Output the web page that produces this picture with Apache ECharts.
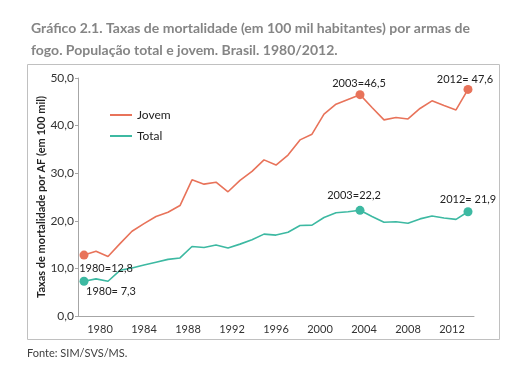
<!DOCTYPE html>
<html lang="pt">
<head>
    <meta charset="UTF-8">
    <title>Gráfico 2.1</title>
    <script src="https://cdn.jsdelivr.net/npm/echarts@6/dist/echarts.min.js"></script>
</head>
<body style="margin:0;background:#fff;">
    <div id="main" style="width:532px;height:375px;"></div>
</body>
<script type="text/javascript">
    // anos da série (1980-2012) e taxas
    var years = [];
    for (var y = 1980; y <= 2012; y++) years.push(String(y));

    var jovem = [12.8, 13.6, 12.5, 15.2, 17.8, 19.4, 20.9, 21.8, 23.2, 28.6,
                 27.7, 28.1, 26.1, 28.5, 30.4, 32.8, 31.7, 33.8, 37.0, 38.2,
                 42.4, 44.5, 45.5, 46.5, 43.8, 41.2, 41.7, 41.4, 43.6, 45.2,
                 44.2, 43.3, 47.6];
    var total = [7.3, 7.8, 7.3, 9.6, 10.1, 10.7, 11.3, 11.9, 12.2, 14.6,
                 14.4, 14.9, 14.3, 15.1, 16.0, 17.2, 17.0, 17.6, 19.0, 19.1,
                 20.7, 21.7, 21.9, 22.2, 20.9, 19.7, 19.8, 19.5, 20.4, 21.0,
                 20.6, 20.3, 21.9];

    // rótulos do eixo x como aparecem no original
    var tickLabels = ['1980', '1984', '1988', '1992', '1996', '2000', '2004', '2008', '2012'];

    // pontos destacados
    var highlightYears = ['1980', '2003', '2012'];
    var jovemNotes = ['1980=12,8', '2003=46,5', '2012= 47,6'];
    var totalNotes = ['1980= 7,3', '2003=22,2', '2012= 21,9'];

    var corJovem = '#E8735A';
    var corTotal = '#3DB9A2';
    var fonte = 'Lato, "Open Sans", sans-serif';

    function pontos(serie, notas, offsets) {
        return highlightYears.map(function (ano, i) {
            return {
                value: [ano, serie[years.indexOf(ano)]],
                label: { formatter: notas[i], offset: offsets[i] }
            };
        });
    }

    var myChart = echarts.init(document.getElementById('main'));

    var option = {
        animation: false,
        textStyle: { fontFamily: fonte },
        title: {
            text: 'Gráfico 2.1. Taxas de mortalidade (em 100 mil habitantes) por armas de\nfogo. População total e jovem. Brasil. 1980/2012.',
            left: 26, top: 12,
            textStyle: { fontFamily: fonte, fontSize: 14, fontWeight: 'bold', color: '#858585', lineHeight: 22 }
        },
        legend: {
            data: ['Jovem', 'Total'],
            orient: 'vertical',
            left: 105, top: 104,
            icon: 'rect',
            itemWidth: 22, itemHeight: 2,
            itemGap: 9,
            textStyle: { fontFamily: fonte, fontSize: 12, color: '#222' }
        },
        grid: { left: 78, right: 58, top: 78, bottom: 59 },
        xAxis: [{
            type: 'category',
            data: years,
            boundaryGap: true,
            show: false
        }, {
            type: 'category',
            data: tickLabels,
            boundaryGap: true,
            position: 'bottom',
            axisLine: { lineStyle: { color: '#a6a6a6' } },
            axisTick: { interval: 0, length: 4, lineStyle: { color: '#a6a6a6' } },
            axisLabel: { interval: 0, fontSize: 11, color: '#333', margin: 8 },
            splitLine: { show: false }
        }],
        yAxis: {
            type: 'value',
            min: 0, max: 50, interval: 10,
            name: 'Taxas de mortalidade por AF (em 100 mil)',
            nameLocation: 'middle',
            nameGap: 31,
            nameMoveOverlap: false,
            nameTextStyle: { fontFamily: fonte, fontSize: 11, fontWeight: 'bold', color: '#222' },
            axisLine: { show: true, lineStyle: { color: '#a6a6a6' } },
            axisTick: { show: true, length: 3, lineStyle: { color: '#a6a6a6' } },
            axisLabel: {
                fontSize: 12, color: '#333', margin: 4,
                formatter: function (v) { return v.toFixed(1).replace('.', ','); }
            },
            splitLine: { show: false }
        },
        graphic: [{
            type: 'rect',
            shape: { x: 27.5, y: 64.5, width: 472, height: 275 },
            style: { fill: 'none', stroke: '#c0c0c0', lineWidth: 1 },
            silent: true
        }, {
            type: 'text',
            left: 27, top: 348,
            style: { text: 'Fonte: SIM/SVS/MS.', fontFamily: fonte, fontSize: 11, fill: '#404040' }
        }],
        series: [{
            name: 'Jovem',
            type: 'line',
            data: jovem,
            showSymbol: false,
            lineStyle: { color: corJovem, width: 1.6 },
            itemStyle: { color: corJovem }
        }, {
            name: 'Total',
            type: 'line',
            data: total,
            showSymbol: false,
            lineStyle: { color: corTotal, width: 1.6 },
            itemStyle: { color: corTotal }
        }, {
            name: 'Jovem destaque',
            type: 'scatter',
            symbolSize: 9,
            z: 5,
            itemStyle: { color: corJovem, opacity: 1 },
            label: { show: true, position: 'inside', fontSize: 11, color: '#222', fontFamily: fonte },
            data: pontos(jovem, jovemNotes, [[22, 13], [-1, -11], [-3, -10]])
        }, {
            name: 'Total destaque',
            type: 'scatter',
            symbolSize: 9,
            z: 5,
            itemStyle: { color: corTotal, opacity: 1 },
            label: { show: true, position: 'inside', fontSize: 11, color: '#222', fontFamily: fonte },
            data: pontos(total, totalNotes, [[27, 10], [-6, -15], [0, -12]])
        }]
    };

    myChart.setOption(option);
</script>
</html>
